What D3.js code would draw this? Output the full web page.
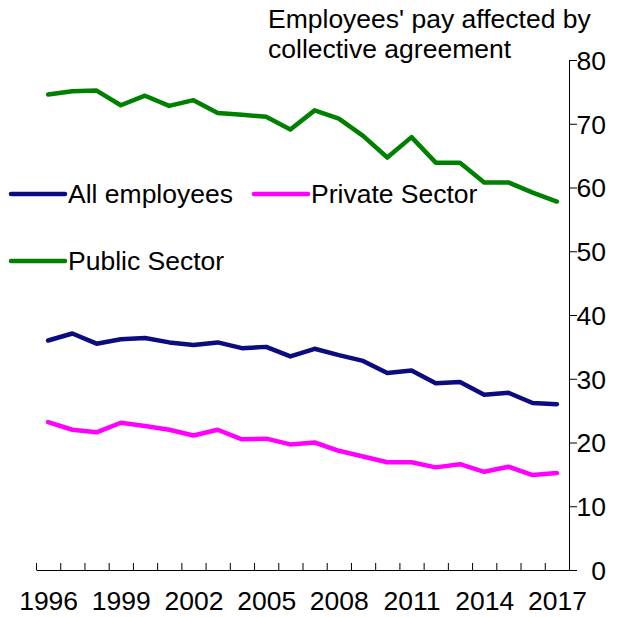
<!DOCTYPE html>
<html>
<head>
<meta charset="utf-8">
<script src="https://cdn.jsdelivr.net/npm/d3@7"></script>
<style>
  html, body { margin: 0; padding: 0; background: #fff; }
  svg text { font-family: "Liberation Sans", Arial, sans-serif; fill: #000; }
</style>
</head>
<body>
<svg id="chart" width="624" height="617"></svg>
<script>
// Share of employees whose pay is set by a collective agreement (%)
const years = d3.range(1996, 2018);
const allEmployees = [36.0, 37.1, 35.5, 36.2, 36.4, 35.7, 35.3, 35.7, 34.8, 35.0, 33.5,
                      34.7, 33.7, 32.8, 30.9, 31.3, 29.3, 29.5, 27.5, 27.8, 26.2, 26.0];
const privateSector = [23.2, 22.0, 21.6, 23.1, 22.6, 22.0, 21.1, 22.0, 20.5, 20.6, 19.7,
                       20.0, 18.7, 17.8, 16.9, 16.9, 16.1, 16.6, 15.4, 16.2, 14.9, 15.2];
const publicSector = [74.6, 75.1, 75.2, 72.9, 74.4, 72.8, 73.7, 71.7, 71.4, 71.1, 69.1,
                      72.1, 70.8, 68.1, 64.7, 67.9, 63.9, 63.9, 60.8, 60.8, 59.2, 57.8];
const yTicks = [0, 10, 20, 30, 40, 50, 60, 70, 80];
const xLabelYears = [1996, 1999, 2002, 2005, 2008, 2011, 2014, 2017];
const titleLines = ["Employees' pay affected by", "collective agreement"];

const series = [
  { name: "All employees", values: allEmployees, color: "#0c0c80" },
  { name: "Private Sector", values: privateSector, color: "#ff00ff" },
  { name: "Public Sector", values: publicSector, color: "#008000" }
];

const svg = d3.select("#chart");
const fontSize = 26.5;

const x = d3.scaleLinear().domain([1995.5, 2017.5]).range([36, 569]);
const y = d3.scaleLinear().domain([0, 80]).range([570, 60]);

// Category boundary ticks along the bottom
const xTickAxis = d3.axisBottom(x)
  .tickValues(d3.range(1995.5, 2018, 1))
  .tickSize(-7)
  .tickSizeOuter(0)
  .tickFormat("");
const gx = svg.append("g").attr("transform", `translate(0,${y(0)})`).call(xTickAxis);
gx.selectAll("line, path").attr("stroke", "#000").attr("stroke-width", 1);

// Year labels every third year
const xLabelAxis = d3.axisBottom(x)
  .tickValues(xLabelYears)
  .tickSize(0)
  .tickFormat(d3.format("d"));
const gxl = svg.append("g").attr("transform", `translate(0,${y(0)})`).call(xLabelAxis);
gxl.select(".domain").remove();
gxl.selectAll("text")
  .attr("font-size", fontSize)
  .attr("font-family", null)
  .attr("dy", null)
  .attr("y", 40);

// Value axis on the right
const yAxis = d3.axisRight(y).tickValues(yTicks).tickSize(8).tickSizeOuter(0);
const gy = svg.append("g").attr("transform", `translate(${x.range()[1]},0)`).call(yAxis);
gy.selectAll("line, path").attr("stroke", "#000").attr("stroke-width", 1);
gy.selectAll("text")
  .attr("font-size", fontSize)
  .attr("font-family", null)
  .attr("text-anchor", "end")
  .attr("x", 37)
  .attr("dy", "0.35em");

// Axis title, two lines
svg.append("g").selectAll("text")
  .data(titleLines)
  .join("text")
  .attr("x", 268)
  .attr("y", (d, i) => 28 + i * 30)
  .attr("font-size", fontSize)
  .text(d => d);

// Series lines
const line = d3.line()
  .x((d, i) => x(years[i]))
  .y(d => y(d));

svg.append("g").selectAll("path")
  .data(series)
  .join("path")
  .attr("d", d => line(d.values))
  .attr("fill", "none")
  .attr("stroke", d => d.color)
  .attr("stroke-width", 4.5)
  .attr("stroke-linejoin", "round")
  .attr("stroke-linecap", "round");

// Legend
const legendPos = [
  { x: 11, y: 194 },
  { x: 254, y: 194 },
  { x: 11, y: 261 }
];
const legend = svg.append("g").selectAll("g")
  .data(series)
  .join("g")
  .attr("transform", (d, i) => `translate(${legendPos[i].x},${legendPos[i].y})`);
legend.append("line")
  .attr("x1", 0).attr("x2", 54)
  .attr("y1", 0).attr("y2", 0)
  .attr("stroke", d => d.color)
  .attr("stroke-width", 4.5)
  .attr("stroke-linecap", "round");
legend.append("text")
  .attr("x", 57)
  .attr("y", 9)
  .attr("font-size", fontSize)
  .text(d => d.name);
</script>
</body>
</html>
